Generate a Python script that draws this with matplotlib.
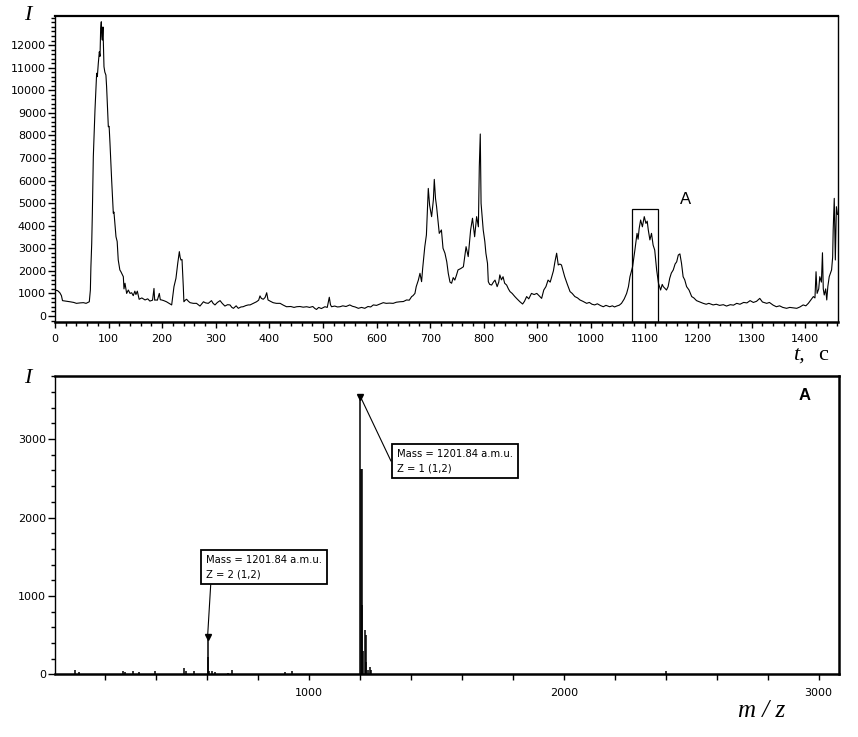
import matplotlib
matplotlib.use("Agg")
import matplotlib.pyplot as plt
from matplotlib.ticker import MultipleLocator, FixedLocator
from matplotlib.patches import Rectangle

# chromatogram (total ion current), time in seconds
t_sec = [0, 5, 9, 12, 14, 20, 28, 35, 40, 47, 53, 58, 62, 64, 66, 67, 68.5, 69.7, 71.5, 74.6,
         77.7, 79, 80.8, 82.7, 84, 85.2, 86.4, 87.3, 88.3, 89.5, 91.4, 93, 95, 96.3, 99.5, 101,
         102.6, 105.7, 108.8, 110, 113.8, 116, 118, 121, 123, 124.4, 127.5, 128.7, 130.6, 133.7,
         136.8, 140, 143, 146, 149, 151, 153.6, 157, 162, 168, 173, 177, 182, 184.7, 186, 188.4,
         191, 194.6, 196.5, 198.9, 203, 208, 213, 217.7, 222, 225.7, 229, 232, 233.5, 235, 237,
         239.4, 240.5, 243, 245.6, 249, 252, 258, 264, 270.5, 277, 281, 286, 292, 295, 298.5,
         303, 308, 312, 317, 322, 326.5, 330, 333, 338, 342, 347, 351, 356, 360.6, 364, 370,
         376, 380, 382.5, 385, 388.6, 392, 395, 397.5, 402, 407, 413, 420, 426, 432, 440, 446,
         451, 457, 463, 469.6, 475, 481, 485, 488, 492, 497, 503.7, 508, 511.8, 514, 516, 522,
         527, 531.7, 537, 543, 550, 555, 560, 566, 572, 578, 584, 589, 594, 600, 606, 612.5,
         618, 624, 631, 637, 643.6, 650, 656, 661, 665.5, 668, 671.6, 674, 678, 681, 684, 686,
         690, 693, 696.5, 699, 702.7, 706, 707.7, 710, 712, 717, 721, 724, 727.6, 731, 733.8,
         737, 740, 743, 746, 749, 752, 757, 762, 767, 771, 775.5, 779, 781, 783, 786.7, 790,
         791.7, 793.5, 795, 799, 802, 804, 807, 808.5, 811, 814.7, 818, 821, 825, 828, 830, 833,
         836, 839, 842.7, 846, 849, 853, 858, 862, 867.5, 872.5, 876, 880, 884, 889, 894, 899,
         903, 908, 912, 916, 920, 924, 926.6, 930, 932.8, 936, 939, 942, 945, 948, 951, 956,
         961, 965, 970, 975, 979.5, 985, 992, 997, 1002, 1007, 1012, 1018, 1023, 1028, 1035,
         1040, 1044, 1048, 1053, 1057, 1062, 1066.6, 1070, 1072.8, 1077.7, 1082, 1086, 1088,
         1090, 1092.7, 1096, 1099.5, 1102.6, 1105, 1107, 1110, 1113, 1116, 1119, 1122.6, 1126,
         1130, 1133, 1135, 1141, 1144, 1147, 1150, 1153.6, 1157, 1160, 1163, 1166, 1169, 1172,
         1175, 1178.5, 1183, 1188, 1192, 1197, 1203, 1209.5, 1215, 1220, 1228, 1234, 1240, 1247,
         1253, 1260, 1266, 1272, 1278, 1285, 1291, 1297, 1303, 1309, 1315, 1320, 1328, 1333,
         1340, 1346, 1352, 1358, 1365, 1371, 1378, 1384, 1390, 1396, 1401, 1405.6, 1410, 1415,
         1418, 1420, 1422, 1425, 1427, 1430, 1432, 1433.5, 1435.3, 1438, 1440, 1442, 1444.6,
         1447, 1449, 1451, 1452, 1454, 1456, 1458, 1460]
intensity = [1150, 1120, 1030, 900, 680, 660, 630, 600, 560, 580, 590, 560, 610, 630, 1150, 2180,
             3200, 4550, 7050, 9120, 10750, 10600, 11190, 11700, 11500, 12740, 13030, 12400,
             12220, 12800, 11040, 10800, 10670, 10150, 8380, 8400, 7650, 6020, 4550, 4600, 3510,
             3300, 2480, 2040, 1960, 1890, 1740, 1200, 1450, 1000, 1150, 1000, 1030, 900, 1100,
             950, 1100, 740, 800, 710, 760, 660, 700, 1220, 700, 710, 700, 1000, 720, 710, 680,
             630, 560, 490, 1300, 1670, 2330, 2850, 2600, 2480, 2500, 1300, 630, 700, 740, 650,
             590, 560, 560, 440, 630, 580, 560, 680, 560, 490, 600, 680, 560, 440, 500, 490, 380,
             340, 450, 340, 400, 410, 460, 490, 490, 560, 630, 700, 890, 780, 740, 820, 1030, 710,
             650, 590, 560, 560, 480, 410, 420, 380, 410, 420, 390, 410, 380, 420, 330, 290, 380,
             330, 410, 380, 830, 500, 410, 440, 400, 410, 450, 420, 490, 430, 400, 340, 380, 340,
             420, 400, 490, 470, 530, 590, 560, 570, 560, 610, 630, 640, 710, 700, 860, 900, 1000,
             1300, 1590, 1890, 1520, 2100, 3070, 3590, 5650, 4900, 4400, 5140, 6050, 5200, 4840,
             3660, 3810, 3000, 2780, 2400, 1890, 1500, 1450, 1700, 1590, 1800, 2040, 2100, 2180,
             3070, 2630, 3810, 4330, 3900, 3510, 4400, 3950, 6610, 8060, 4990, 3810, 3300, 2780,
             2330, 1520, 1400, 1370, 1500, 1590, 1300, 1500, 1820, 1600, 1740, 1450, 1370, 1200,
             1080, 1000, 860, 760, 630, 530, 650, 860, 760, 1000, 950, 1000, 900, 780, 1150, 1300,
             1590, 1500, 1710, 2000, 2400, 2780, 2260, 2300, 2260, 2000, 1740, 1400, 1080, 1000,
             860, 800, 710, 650, 560, 600, 520, 490, 540, 460, 410, 470, 410, 450, 400, 440, 480,
             560, 750, 1000, 1300, 1740, 2180, 2920, 3660, 3400, 3880, 4250, 3950, 4400, 4100,
             4200, 3810, 3370, 3660, 3140, 2920, 2040, 1450, 1150, 1400, 1300, 1150, 1300, 1670,
             1900, 2040, 2300, 2400, 2700, 2750, 2330, 1740, 1600, 1300, 1150, 860, 800, 680, 620,
             560, 520, 560, 490, 520, 470, 500, 440, 500, 480, 560, 520, 600, 580, 680, 600, 650,
             780, 620, 560, 600, 480, 410, 450, 380, 340, 380, 360, 340, 400, 490, 450, 560, 700,
             860, 800, 1960, 1000, 1200, 1740, 1500, 2800, 1200, 930, 1200, 710, 1300, 1740, 1900,
             2040, 2600, 3810, 5210, 2480, 4840, 4500]

# labelled intensity ticks of the chromatogram
i_ticks = [0, 1000, 2000, 3000, 4000, 5000, 6000, 7000, 8000, 9000, 10000, 11000, 12000]

# selected fraction "A"
frac_start, frac_end, frac_top = 1077, 1125, 4720

# mass spectrum of fraction A (stick spectrum)
mz = [82, 98, 268, 279, 311, 334, 396, 510, 517, 547, 601.7, 602.8, 608, 621, 632, 680, 696,
      905, 935, 1201.84, 1203.5, 1206, 1209, 1212, 1218, 1222, 1225, 1233, 1241, 1245, 2401]
ms_int = [55, 30, 45, 25, 38, 30, 45, 76, 38, 38, 470, 225, 40, 38, 30, 15, 60,
          30, 45, 3540, 2620, 2620, 880, 300, 565, 500, 160, 55, 97, 55, 38]

label_z2 = "Mass = 1201.84 a.m.u.\nZ = 2 (1,2)"
label_z1 = "Mass = 1201.84 a.m.u.\nZ = 1 (1,2)"

plt.rcParams["font.family"] = "DejaVu Sans"
serif = "Liberation Serif"

fig = plt.figure(figsize=(8.58, 7.37), dpi=100)
ax1 = fig.add_axes([0.0641, 0.5631, 0.9126, 0.4152])
ax2 = fig.add_axes([0.0641, 0.0851, 0.9138, 0.4047])

# ---- top: chromatogram ----
ax1.plot(t_sec, intensity, color="black", lw=0.8)
ax1.set_xlim(0, 1461)
ax1.set_ylim(-266, 13286)
ax1.xaxis.set_major_locator(MultipleLocator(100))
ax1.xaxis.set_minor_locator(MultipleLocator(20))
ax1.yaxis.set_major_locator(FixedLocator(i_ticks))
ax1.yaxis.set_minor_locator(MultipleLocator(200))
ax1.tick_params(axis="x", which="major", length=4, width=1, pad=5, labelsize=8)
ax1.tick_params(axis="x", which="minor", length=3, width=1)
ax1.tick_params(axis="y", which="major", length=5, width=1, pad=1.5, labelsize=8)
ax1.tick_params(axis="y", which="minor", length=3, width=1)
ax1.add_patch(Rectangle((frac_start, -266), frac_end - frac_start, frac_top + 266,
                        fill=False, ec="black", lw=0.9))
ax1.text(1177, 5180, "A", fontsize=12, family="Liberation Sans", ha="center", va="center")
for side, w in [("top", 1.6), ("bottom", 1.8), ("left", 1.0), ("right", 1.0)]:
    ax1.spines[side].set_linewidth(w)

# ---- bottom: mass spectrum ----
ax2.vlines(mz, 0, ms_int, color="black", lw=1.1)
ax2.set_xlim(3, 3080)
ax2.set_ylim(0, 3805)
ax2.xaxis.set_major_locator(MultipleLocator(1000))
ax2.xaxis.set_minor_locator(MultipleLocator(200))
ax2.yaxis.set_major_locator(MultipleLocator(1000))
ax2.yaxis.set_minor_locator(MultipleLocator(200))
ax2.tick_params(axis="x", which="major", length=4, width=1, pad=6, labelsize=8)
ax2.tick_params(axis="x", which="minor", length=4, width=1)
ax2.tick_params(axis="y", which="major", length=5, width=1, pad=1.5, labelsize=8)
ax2.tick_params(axis="y", which="minor", length=3, width=1)
for side, w in [("top", 1.8), ("bottom", 1.8), ("left", 1.0), ("right", 1.8)]:
    ax2.spines[side].set_linewidth(w)

ax2.plot([601.7, 1201.84], [470, 3540], ls="none", marker="v", ms=4, color="black")
box = dict(boxstyle="square,pad=0.5", fc="white", ec="black", lw=1.3)
ax2.annotate(label_z2, xy=(601.7, 470), xytext=(594, 1215), textcoords="data",
             fontsize=7.2, linespacing=1.5, ha="left", va="bottom", bbox=box,
             arrowprops=dict(arrowstyle="-", color="black", lw=0.8, relpos=(0.047, 0),
                             shrinkA=0, shrinkB=0))
ax2.annotate(label_z1, xy=(1201.84, 3540), xytext=(1344, 2567), textcoords="data",
             fontsize=7.2, linespacing=1.5, ha="left", va="bottom", bbox=box,
             arrowprops=dict(arrowstyle="-", color="black", lw=0.8, relpos=(0, 0),
                             shrinkA=0, shrinkB=0))
ax2.text(0.9566, 0.9346, "A", transform=ax2.transAxes, fontsize=12, weight="bold",
         family="Liberation Sans", ha="center", va="center")

# axis titles
fig.text(0.032, 0.979, "I", fontsize=16, style="italic", family=serif, ha="center", va="center")
fig.text(0.032, 0.487, "I", fontsize=16, style="italic", family=serif, ha="center", va="center")
fig.text(0.924, 0.518, "t,", fontsize=16, style="italic", family=serif, ha="left", va="center")
fig.text(0.953, 0.518, "с", fontsize=16, family=serif, ha="left", va="center")
fig.text(0.888, 0.035, "m / z", fontsize=18, style="italic", family=serif, ha="center", va="center")

fig.savefig("out.png", dpi=100)
